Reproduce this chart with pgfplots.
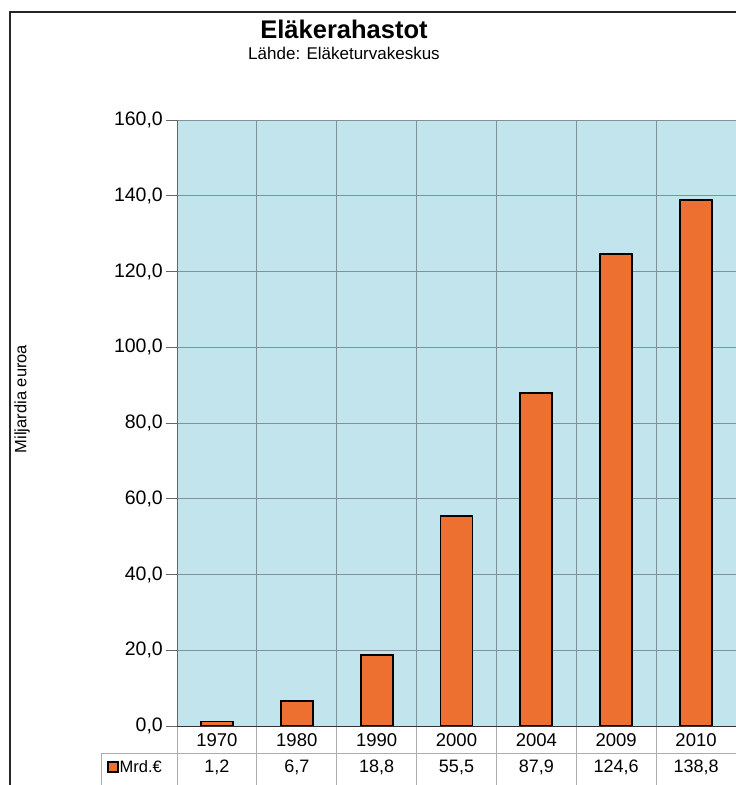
\documentclass[border=0pt]{standalone}
\usepackage{pgfplots}
\pgfplotsset{compat=1.18}
\usepackage{fontspec}
\setmainfont{Liberation Sans}
\definecolor{bg}{RGB}{194,228,236}
\definecolor{gridc}{RGB}{128,146,150}
\definecolor{barc}{RGB}{238,112,48}
\definecolor{tabc}{RGB}{172,172,172}

\begin{document}
\begin{tikzpicture}
\useasboundingbox (0pt,0pt) rectangle (736pt,785pt);
\clip (0pt,0pt) rectangle (736pt,785pt);
\fill[white] (0pt,0pt) rectangle (736pt,785pt);
% outer frame, cut off at the right and bottom
\draw[line width=2.5pt, black!85] (10pt,-20pt) -- (10pt,773pt) -- (760pt,773pt);
\node[anchor=base, font=\fontsize{25.5}{30}\selectfont\bfseries] at (344pt,746.7pt) {Eläkerahastot};
\node[anchor=base, font=\fontsize{17}{20}\selectfont] at (344pt,725pt) {Lähde: Eläketurvakeskus};
\node[rotate=90, font=\fontsize{16.5}{19}\selectfont] at (22pt,386pt) {Miljardia euroa};

\begin{axis}[
  at={(177pt,59pt)}, anchor=south west,
  scale only axis, width=559pt, height=606pt,
  xmin=-0.5, xmax=6.5, ymin=0, ymax=160,
  ybar, bar width=32pt,
  clip=false,
  xtick={0,...,6},
  xticklabels={1970,1980,1990,2000,2004,2009,2010},
  minor xtick={0.5,1.5,...,5.5},
  ytick={0,20,...,160},
  ymajorgrids, xminorgrids,
  major grid style={gridc, line width=0.9pt},
  minor grid style={gridc, line width=0.9pt},
  tick align=outside, major tick length=11pt, minor tick length=0pt,
  xtick style={draw=none},
  ytick style={draw=black!60, line width=0.9pt},
  ytick pos=left,
  axis line style={draw=gridc, line width=0.9pt},
  axis background/.style={fill=bg},
  yticklabel={\pgfmathprintnumber[fixed,fixed zerofill,precision=1,use comma,assume math mode=true]{\tick}},
  yticklabel style={font=\fontsize{19.5}{22}\selectfont, inner sep=3pt},
  xticklabel style={font=\fontsize{18.5}{21}\selectfont, anchor=center, yshift=-3pt},
  legend style={at={(0,0)}, anchor=east, xshift=-14pt, yshift=-41pt,
    draw=none, fill=none, inner sep=0pt,
    font=\fontsize{16.5}{19}\selectfont, nodes={inner sep=1pt}},
]
\addplot[fill=barc, draw=black, line width=1.8pt,
  nodes near coords={\pgfmathprintnumber[fixed,fixed zerofill,precision=1,use comma,assume math mode=true]{\pgfplotspointmeta}},
  visualization depends on={y \as \rawy},
  every node near coord/.append style={font=\fontsize{18}{21}\selectfont, anchor=center, black,
    yshift={-\rawy*3.7875pt-41pt}},
  legend image code/.code={\draw[fill=barc, draw=black, line width=1.2pt] (0pt,-5pt) rectangle (10pt,5pt);}
] coordinates {(0,1.2) (1,6.7) (2,18.8) (3,55.5) (4,87.9) (5,124.6) (6,138.8)};
\addlegendentry{Mrd.€}
% data table grid below the axis
\pgfplotsinvokeforeach{-0.5,0.5,1.5,2.5,3.5,4.5,5.5}{
  \draw[tabc, line width=1pt] (axis cs:#1,0) -- ++(0pt,-80pt);
}
\draw[tabc, line width=1pt] ([xshift=-75pt,yshift=-27pt]axis cs:-0.5,0) -- ([yshift=-27pt]axis cs:6.5,0);
\draw[tabc, line width=1pt] ([xshift=-75pt,yshift=-27pt]axis cs:-0.5,0) -- ++(0pt,-60pt);
\draw[black!60, line width=1pt] (rel axis cs:0,1) -- (rel axis cs:0,0);
\draw[black!80, line width=1pt] (rel axis cs:0,0) -- (rel axis cs:1,0);
\end{axis}
\end{tikzpicture}
\end{document}
